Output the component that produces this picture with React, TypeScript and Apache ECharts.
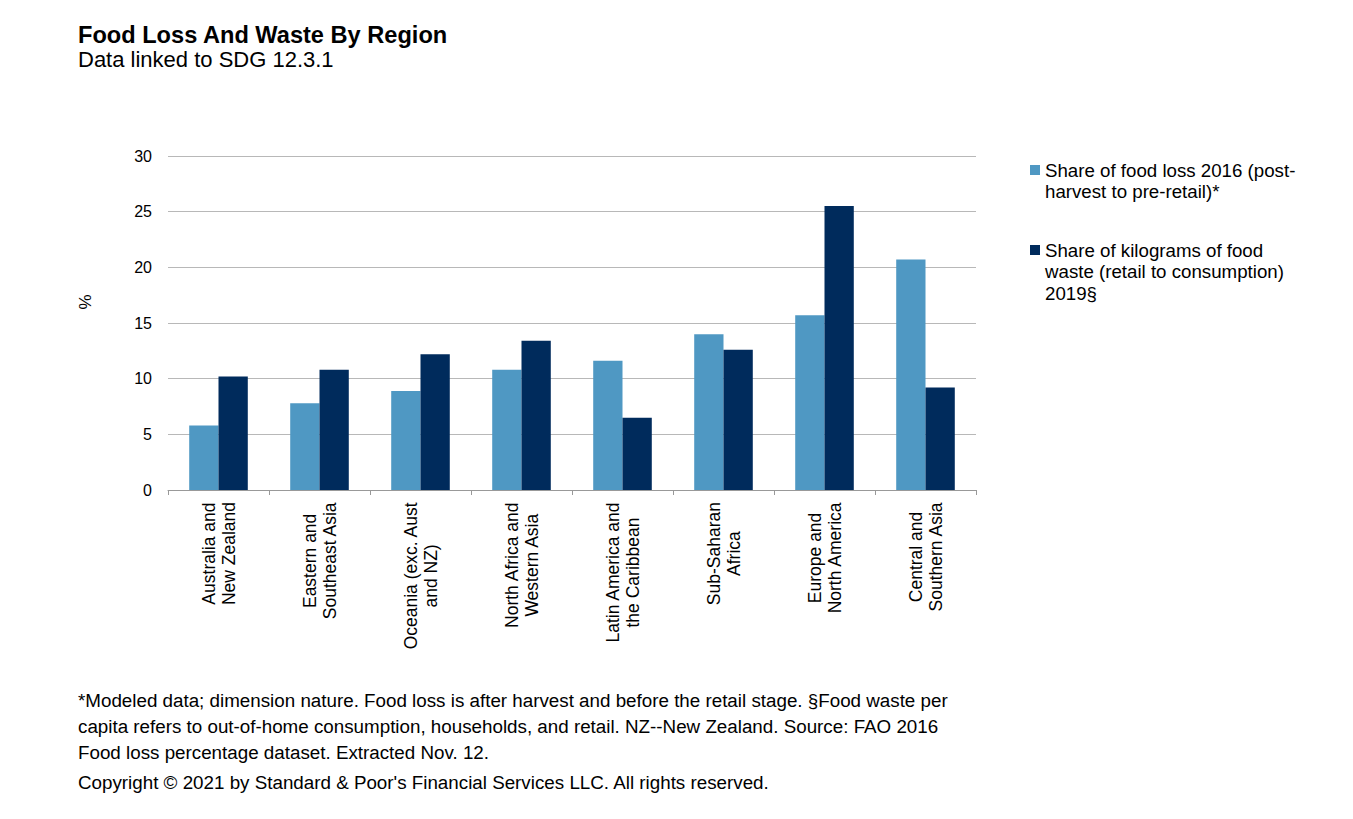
import React, { useEffect, useRef } from "react";
import * as echarts from "echarts";

const FONT = "'Liberation Sans', Arial, Helvetica, sans-serif";

const TITLE = "Food Loss And Waste By Region";
const SUBTITLE = "Data linked to SDG 12.3.1";

const CATEGORIES = [
  "Australia and\nNew Zealand",
  "Eastern and\nSoutheast Asia",
  "Oceania (exc. Aust\nand NZ)",
  "North Africa and\nWestern Asia",
  "Latin America and\nthe Caribbean",
  "Sub-Saharan\nAfrica",
  "Europe and\nNorth America",
  "Central and\nSouthern Asia",
];

const SERIES_NAMES = [
  "Share of food loss 2016 (post-harvest to pre-retail)*",
  "Share of kilograms of food waste (retail to consumption) 2019§",
];

const LEGEND_LINES = [
  ["Share of food loss 2016 (post-", "harvest to pre-retail)*"],
  ["Share of kilograms of food", "waste (retail to consumption)", "2019§"],
];

const FOOD_LOSS = [5.8, 7.8, 8.9, 10.8, 11.6, 14.0, 15.7, 20.7];
const FOOD_WASTE = [10.2, 10.8, 12.2, 13.4, 6.5, 12.6, 25.5, 9.2];

const Y_MIN = 0;
const Y_MAX = 30;
const Y_INTERVAL = 5;
const Y_NAME = "%";

const FOOTNOTES = [
  "*Modeled data; dimension nature. Food loss is after harvest and before the retail stage. §Food waste per",
  "capita refers to out-of-home consumption, households, and retail. NZ--New Zealand. Source: FAO 2016",
  "Food loss percentage dataset. Extracted Nov. 12.",
];
const COPYRIGHT =
  "Copyright © 2021 by Standard & Poor's Financial Services LLC. All rights reserved.";

const COLORS = ["#4F98C3", "#002B5C"];

export default function App() {
  const ref = useRef<HTMLDivElement>(null);

  useEffect(() => {
    document.body.style.margin = "0";
    if (!ref.current) return;
    const chart = echarts.init(ref.current, null, { renderer: "svg" });

    const LEGEND_LH = 21.5;
    const legendIconCenters = [170, 250];
    const legends = SERIES_NAMES.map((name, i) => {
      const n = LEGEND_LINES[i].length;
      // pad with empty lines so that the first text line sits level with the icon
      const lines = [...Array(n - 1).fill(""), ...LEGEND_LINES[i]];
      const blockH = lines.length * LEGEND_LH;
      return {
        show: true,
        orient: "vertical",
        left: 1030,
        top: legendIconCenters[i] - blockH / 2,
        padding: 0,
        itemWidth: 10,
        itemHeight: 10,
        icon: "rect",
        selectedMode: false,
        data: [name],
        formatter: () => lines.join("\n"),
        textStyle: {
          fontFamily: FONT,
          fontSize: 18.7,
          lineHeight: LEGEND_LH,
          color: "#000",
        },
      };
    });

    const footY = [700.5, 726.5, 752.5];
    const FOOT_FS = 18.8;

    chart.setOption({
      animation: false,
      backgroundColor: "#fff",
      textStyle: { fontFamily: FONT },
      title: {
        text: TITLE,
        subtext: SUBTITLE,
        left: 78,
        top: 22.5,
        padding: 0,
        itemGap: 2,
        textStyle: {
          fontFamily: FONT,
          fontSize: 23.6,
          fontWeight: "bold",
          color: "#000",
        },
        subtextStyle: {
          fontFamily: FONT,
          fontSize: 22,
          color: "#000",
        },
      },
      legend: legends,
      grid: {
        left: 168,
        right: 377,
        top: 156,
        bottom: 329,
        containLabel: false,
      },
      xAxis: {
        type: "category",
        data: CATEGORIES,
        axisLine: { show: true, lineStyle: { color: "#999", width: 1 } },
        axisTick: { show: true, length: 5, lineStyle: { color: "#999" } },
        axisLabel: {
          interval: 0,
          rotate: 90,
          margin: 12,
          color: "#000",
          fontFamily: FONT,
          fontSize: 17.5,
          formatter: (v: string) =>
            v
              .split("\n")
              .map((l) => `{c|${l}}`)
              .join("\n"),
          rich: {
            c: {
              align: "center",
              fontFamily: FONT,
              fontSize: 17.5,
              lineHeight: 20,
              color: "#000",
            },
          },
        },
      },
      yAxis: {
        type: "value",
        min: Y_MIN,
        max: Y_MAX,
        interval: Y_INTERVAL,
        axisLine: { show: false },
        axisTick: { show: false },
        axisLabel: {
          margin: 16,
          color: "#000",
          fontFamily: FONT,
          fontSize: 16,
        },
        splitLine: { show: true, lineStyle: { color: "#b8b8b8", width: 1 } },
      },
      series: [
        {
          name: SERIES_NAMES[0],
          type: "bar",
          data: FOOD_LOSS,
          itemStyle: { color: COLORS[0] },
          barGap: "0%",
          barCategoryGap: "42%",
        },
        {
          name: SERIES_NAMES[1],
          type: "bar",
          data: FOOD_WASTE,
          itemStyle: { color: COLORS[1] },
          barGap: "0%",
          barCategoryGap: "42%",
        },
      ],
      graphic: [
        {
          type: "text",
          x: 85,
          y: 302,
          rotation: Math.PI / 2,
          style: {
            text: Y_NAME,
            fontFamily: FONT,
            fontSize: 17,
            fill: "#000",
            align: "center",
            verticalAlign: "middle",
          },
        },
        ...FOOTNOTES.map((t, i) => ({
          type: "text",
          x: 78,
          y: footY[i],
          style: {
            text: t,
            fontFamily: FONT,
            fontSize: FOOT_FS,
            fill: "#000",
            align: "left",
            verticalAlign: "middle",
          },
        })),
        {
          type: "text",
          x: 78,
          y: 782.5,
          style: {
            text: COPYRIGHT,
            fontFamily: FONT,
            fontSize: FOOT_FS,
            fill: "#000",
            align: "left",
            verticalAlign: "middle",
          },
        },
      ],
    });

    return () => {
      chart.dispose();
    };
  }, []);

  return <div ref={ref} style={{ width: 1353, height: 819 }} />;
}
